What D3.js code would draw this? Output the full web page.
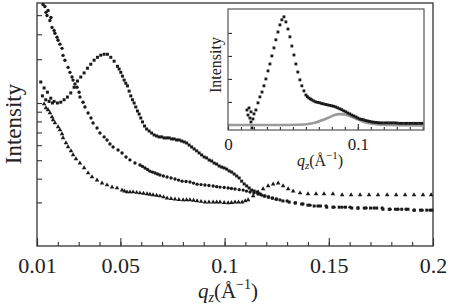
<!DOCTYPE html>
<html>
<head>
<meta charset="utf-8">
<script src="https://cdn.jsdelivr.net/npm/d3@7"></script>
<style>
  body { margin: 0; background: #fff; }
  text { font-family: "Liberation Serif", "Times New Roman", serif; fill: #222; }
</style>
</head>
<body>
<svg id="chart" width="450" height="306"></svg>
<script>
// ---- data ----
// main panel, [q_z, intensity]
const seriesA = [
  [0.0118,12.9],[0.0126,10.9],[0.0134,12.0],[0.0142,10.4],[0.0150,11.4],[0.0158,10.2],[0.0166,10.6],[0.0174,10.0],
  [0.0182,10.2],[0.0198,10.0],[0.0214,10.1],[0.0230,10.4],[0.0246,10.75],[0.0262,11.3],[0.0278,12.1],[0.0294,13.05],
  [0.0310,13.7],[0.0326,14.4],[0.0342,15.25],[0.0358,16.0],[0.0374,16.8],[0.0390,17.4],[0.0406,17.85],[0.0422,18.05],
  [0.0438,18.05],[0.0454,17.4],[0.0470,16.6],[0.0486,15.6],[0.0494,15.1],[0.0502,14.5],[0.0510,13.85],[0.0518,13.2],
  [0.0526,12.7],[0.0534,12.3],[0.0542,11.55],[0.0550,10.9],[0.0558,10.4],[0.0566,10.0],[0.0574,9.53],[0.0582,9.08],
  [0.0590,8.75],[0.0598,8.34],[0.0606,7.95],[0.0616,7.57],[0.0626,7.30],[0.0638,7.12],[0.0650,6.95],[0.0662,6.79],
  [0.0674,6.71],[0.0686,6.63],[0.0698,6.63],[0.0710,6.55],[0.0722,6.55],[0.0734,6.55],[0.0746,6.47],[0.0758,6.47],
  [0.0770,6.39],[0.0782,6.39],[0.0794,6.31],[0.0806,6.24],[0.0818,6.16],[0.0830,6.01],[0.0842,5.87],[0.0854,5.73],
  [0.0866,5.60],[0.0878,5.46],[0.0890,5.33],[0.0902,5.20],[0.0914,5.14],[0.0926,5.01],[0.0938,4.95],[0.0950,4.83],
  [0.0962,4.77],[0.0974,4.66],[0.0986,4.60],[0.0998,4.55],[0.1010,4.49],[0.1022,4.39],[0.1034,4.33],[0.1046,4.23],
  [0.1058,4.13],[0.1070,4.03],[0.1082,3.88],[0.1094,3.75],[0.1106,3.66],[0.1118,3.57],[0.1130,3.48],[0.1142,3.44],
  [0.1156,3.40],[0.117,3.32],[0.119,3.24],[0.121,3.20],[0.123,3.16],[0.125,3.12],[0.128,3.05],[0.131,3.01],
  [0.134,2.98],[0.137,2.94],[0.140,2.90],[0.143,2.87],[0.146,2.87],[0.149,2.83],[0.152,2.83],[0.155,2.83],
  [0.158,2.83],[0.161,2.80],[0.164,2.80],[0.167,2.80],[0.170,2.80],[0.173,2.80],[0.176,2.76],[0.179,2.76],
  [0.182,2.76],[0.185,2.76],[0.188,2.76],[0.191,2.73],[0.194,2.73],[0.197,2.73],[0.1995,2.73]
];
const seriesB = [
  [0.0129,33.0],[0.0138,32.2],[0.0143,30.0],[0.0148,28.9],[0.0153,30.7],[0.0162,27.2],[0.0167,28.2],[0.0172,25.0],
  [0.0182,24.1],[0.0186,23.3],[0.0196,22.2],[0.0201,21.4],[0.0210,20.4],[0.0220,19.4],[0.0225,17.8],[0.0234,16.8],
  [0.0249,15.4],[0.0258,14.5],[0.0268,13.7],[0.0273,13.2],[0.0282,12.6],[0.0292,12.1],[0.0302,11.4],[0.0306,10.75],
  [0.0321,10.1],[0.0330,9.53],[0.0345,8.86],[0.0359,8.34],[0.0369,7.85],[0.0388,7.39],[0.0402,6.95],[0.0422,6.63],
  [0.0436,6.39],[0.0450,6.09],[0.0465,5.87],[0.0489,5.66],[0.0508,5.46],[0.0527,5.20],[0.0546,5.02],[0.0570,4.83],
  [0.0594,4.72],[0.0606,4.64],[0.0618,4.55],[0.0630,4.47],[0.0642,4.38],[0.0654,4.33],[0.0666,4.28],[0.0678,4.23],
  [0.0690,4.18],[0.0706,4.13],[0.0724,4.08],[0.0743,4.03],[0.0762,3.98],[0.0779,3.93],[0.0796,3.88],[0.0815,3.86],
  [0.0834,3.84],[0.0851,3.79],[0.0868,3.74],[0.0887,3.72],[0.0906,3.70],[0.0925,3.68],[0.0945,3.66],[0.0962,3.63],
  [0.0978,3.61],[0.0998,3.59],[0.1017,3.57],[0.1033,3.55],[0.1050,3.53],[0.1070,3.50],[0.1089,3.48],[0.1105,3.44],
  [0.1122,3.40],[0.1141,3.36],[0.1160,3.32],[0.1177,3.28],[0.1194,3.24],[0.1211,3.20],[0.1228,3.16],[0.1247,3.12],
  [0.1266,3.09],[0.1300,3.05],[0.1338,2.98],[0.1376,2.94],[0.1410,2.90],[0.1448,2.87],[0.1487,2.87],[0.1525,2.83],
  [0.1564,2.83],[0.1602,2.83],[0.1640,2.80],[0.1679,2.80],[0.1717,2.80],[0.1756,2.80],[0.1794,2.76],[0.1832,2.76],
  [0.1871,2.76],[0.1909,2.73],[0.1948,2.73],[0.1986,2.73]
];
const seriesC = [
  [0.0134,9.88],[0.0143,9.42],[0.0153,9.19],[0.0162,8.86],[0.0172,8.44],[0.0177,8.14],[0.0186,7.85],[0.0201,7.48],
  [0.0210,7.21],[0.0220,6.87],[0.0225,6.55],[0.0239,6.16],[0.0249,5.87],[0.0263,5.59],[0.0273,5.33],[0.0287,5.08],
  [0.0306,4.83],[0.0326,4.55],[0.0345,4.28],[0.0364,4.08],[0.0388,3.93],[0.0412,3.79],[0.0436,3.70],[0.0460,3.61],
  [0.0484,3.57],[0.0508,3.48],[0.0520,3.44],[0.0532,3.40],[0.0546,3.40],[0.0561,3.40],[0.0578,3.38],[0.0594,3.36],
  [0.0611,3.34],[0.0628,3.32],[0.0642,3.30],[0.0657,3.28],[0.0674,3.26],[0.0690,3.24],[0.0707,3.20],[0.0724,3.16],
  [0.0743,3.14],[0.0762,3.12],[0.0781,3.10],[0.0801,3.09],[0.0818,3.09],[0.0834,3.09],[0.0851,3.07],[0.0868,3.05],
  [0.0887,3.03],[0.0906,3.01],[0.0925,3.01],[0.0945,3.01],[0.0962,3.01],[0.0978,3.01],[0.0998,2.99],[0.1017,2.98],
  [0.1033,2.99],[0.1050,3.01],[0.1067,3.01],[0.1084,3.01],[0.1099,3.05],[0.1113,3.09],[0.1137,3.24],[0.1161,3.40],
  [0.1185,3.53],[0.1209,3.66],[0.1233,3.74],[0.1257,3.79],[0.1281,3.66],[0.1305,3.53],[0.1329,3.44],[0.1362,3.36],
  [0.1400,3.32],[0.1439,3.32],[0.1477,3.32],[0.1520,3.32],[0.1564,3.28],[0.1607,3.28],[0.1650,3.28],[0.1693,3.28],
  [0.1736,3.28],[0.1780,3.28],[0.1823,3.28],[0.1866,3.28],[0.1909,3.28],[0.1952,3.28],[0.1991,3.28]
];

// inset, [q_z, intensity (arb.)]
const insetData = [
  [0.0146,0.65],[0.0154,0.43],[0.0162,0.74],[0.0169,0.30],[0.0177,0.57],[0.0177,0.13],[0.0185,-0.13],[0.0192,0.26],
  [0.0200,0.48],[0.0215,0.65],[0.0231,0.96],[0.0246,1.22],[0.0262,1.43],[0.0277,1.70],[0.0292,2.00],[0.0308,2.35],
  [0.0323,2.65],[0.0338,3.00],[0.0354,3.35],[0.0369,3.70],[0.0385,4.04],[0.0400,4.35],[0.0415,4.57],[0.0431,4.70],
  [0.0446,4.48],[0.0462,4.17],[0.0477,3.83],[0.0492,3.43],[0.0508,3.04],[0.0523,2.65],[0.0538,2.30],[0.0554,1.96],
  [0.0569,1.70],[0.0585,1.48],[0.0600,1.30],[0.0612,1.23],[0.0623,1.17],[0.0635,1.13],[0.0646,1.09],[0.0661,1.04],
  [0.0677,1.00],[0.0692,0.98],[0.0708,0.96],[0.0723,0.93],[0.0738,0.91],[0.0754,0.89],[0.0769,0.87],[0.0785,0.85],
  [0.0800,0.83],[0.0815,0.81],[0.0831,0.78],[0.0846,0.74],[0.0862,0.70],[0.0877,0.66],[0.0892,0.61],[0.0908,0.57],
  [0.0923,0.52],[0.0938,0.48],[0.0954,0.43],[0.0969,0.39],[0.0985,0.35],[0.1000,0.30],[0.1015,0.26],[0.1031,0.24],
  [0.1046,0.22],[0.1062,0.19],[0.1077,0.17],[0.1092,0.15],[0.1108,0.13],[0.1123,0.12],[0.1138,0.11],[0.1154,0.10],
  [0.1169,0.09],[0.1188,0.09],[0.1208,0.09],[0.1227,0.09],[0.1246,0.09],[0.1266,0.09],[0.1285,0.09],[0.1304,0.08],
  [0.1323,0.07],[0.1342,0.07],[0.1362,0.07],[0.1381,0.07],[0.1400,0.07],[0.1419,0.07],[0.1438,0.07],[0.1457,0.07],
  [0.1477,0.07],[0.1495,0.07]
];
const insetFit = [
  [0,0],[0.0246,0],[0.0477,0],[0.0592,0.02],[0.0669,0.09],[0.0723,0.2],[0.0769,0.3],[0.0815,0.42],
  [0.0862,0.47],[0.0908,0.44],[0.0954,0.35],[0.1,0.24],[0.1046,0.13],[0.1092,0.07],[0.1154,0.02],[0.1246,0],[0.1508,-0.02]
];

const mainXLabels = [0.01, 0.05, 0.1, 0.15, 0.2];
const mainYTicks = [3, 4, 5, 6, 7, 8, 9, 10, 17, 23, 29];
const insetXLabels = [0, 0.1];
const insetYTicks = [0, 1, 2, 3, 4];

// ---- main panel ----
const svg = d3.select("#chart");
const ink = "#1a1a1a";

const x = d3.scaleLinear().domain([0.01, 0.2]).range([37, 433]);
const y = d3.scaleLog().domain([1.768, 33.6]).range([246, 3]);

function styleAxis(g) {
  g.select(".domain").remove();
  g.selectAll(".tick line").attr("stroke", "#333").attr("stroke-width", 1.1);
  g.selectAll(".tick text").attr("fill", "#222");
}

svg.append("g")
  .attr("transform", "translate(0,246)")
  .call(d3.axisBottom(x).tickValues(d3.range(0.01, 0.2001, 0.01)).tickSize(-4).tickFormat(""))
  .call(styleAxis);

svg.append("g")
  .attr("transform", "translate(0,246)")
  .call(d3.axisBottom(x).tickValues(mainXLabels).tickSizeInner(-8).tickSizeOuter(0).tickPadding(11).tickFormat(d => d))
  .call(styleAxis)
  .call(g => g.selectAll(".tick text").style("font-size", "22px").style("font-family", "'Liberation Serif', serif"));

svg.append("g")
  .attr("transform", "translate(37,0)")
  .call(d3.axisLeft(y).tickValues(mainYTicks).tickSize(-5).tickFormat(""))
  .call(styleAxis);

svg.append("rect")
  .attr("x", x.range()[0]).attr("y", y.range()[1])
  .attr("width", x.range()[1] - x.range()[0]).attr("height", y.range()[0] - y.range()[1])
  .attr("fill", "none").attr("stroke", "#333").attr("stroke-width", 1.3);

const markA = d3.symbol().type(d3.symbolSquare).size(9);
const markB = d3.symbol().type(d3.symbolCircle).size(9);
const markC = d3.symbol().type(d3.symbolTriangle).size(9);

[[seriesA, markA], [seriesB, markB], [seriesC, markC]].forEach(([data, mark]) => {
  svg.append("g").selectAll("path")
    .data(data)
    .enter().append("path")
    .attr("d", mark)
    .attr("transform", d => "translate(" + x(d[0]) + "," + y(d[1]) + ")")
    .attr("fill", ink);
});

// axis titles
const xt = svg.append("text").attr("x", 228).attr("y", 298).attr("text-anchor", "middle").style("font-size", "21px");
xt.append("tspan").attr("font-style", "italic").text("q");
xt.append("tspan").attr("font-style", "italic").attr("font-size", "14px").attr("dy", 4).text("z");
xt.append("tspan").attr("dy", -4).text("(Å");
xt.append("tspan").attr("font-size", "14px").attr("dy", -9).text("−1");
xt.append("tspan").attr("dy", 9).text(")");

svg.append("text")
  .attr("transform", "translate(21,124) rotate(-90)")
  .attr("text-anchor", "middle")
  .style("font-size", "23px")
  .text("Intensity");

// ---- inset ----
const xi = d3.scaleLinear().domain([0, 0.151]).range([228, 424]);
const yi = d3.scaleLinear().domain([-0.22, 5.04]).range([130, 9]);

svg.append("rect")
  .attr("x", 228).attr("y", 9).attr("width", 196).attr("height", 121)
  .attr("fill", "#fff");

svg.append("g")
  .attr("transform", "translate(0,130)")
  .call(d3.axisBottom(xi).tickValues(d3.range(0, 0.1501, 0.01)).tickSize(-3).tickFormat(""))
  .call(styleAxis);

svg.append("g")
  .attr("transform", "translate(0,130)")
  .call(d3.axisBottom(xi).tickValues(insetXLabels).tickSizeInner(-6).tickSizeOuter(0).tickPadding(8).tickFormat(d => d))
  .call(styleAxis)
  .call(g => g.selectAll(".tick text").style("font-size", "17px").style("font-family", "'Liberation Serif', serif"));

svg.append("g")
  .attr("transform", "translate(228,0)")
  .call(d3.axisLeft(yi).tickValues(insetYTicks).tickSize(-4).tickFormat(""))
  .call(styleAxis);

svg.append("path")
  .datum(insetFit)
  .attr("d", d3.line().x(d => xi(d[0])).y(d => yi(d[1])).curve(d3.curveMonotoneX))
  .attr("fill", "none")
  .attr("stroke", "#9a9a9a")
  .attr("stroke-width", 2.6);

svg.append("g").selectAll("path")
  .data(insetData)
  .enter().append("path")
  .attr("d", d3.symbol().type(d3.symbolSquare).size(8))
  .attr("transform", d => "translate(" + xi(d[0]) + "," + yi(d[1]) + ")")
  .attr("fill", ink);

svg.append("rect")
  .attr("x", 228).attr("y", 9).attr("width", 196).attr("height", 121)
  .attr("fill", "none").attr("stroke", "#555").attr("stroke-width", 1.2);

const it = svg.append("text").attr("x", 320).attr("y", 166).attr("text-anchor", "middle").style("font-size", "16px");
it.append("tspan").attr("font-style", "italic").text("q");
it.append("tspan").attr("font-style", "italic").attr("font-size", "11px").attr("dy", 3).text("z");
it.append("tspan").attr("dy", -3).text("(Å");
it.append("tspan").attr("font-size", "11px").attr("dy", -7).text("−1");
it.append("tspan").attr("dy", 7).text(")");

svg.append("text")
  .attr("transform", "translate(221,65) rotate(-90)")
  .attr("text-anchor", "middle")
  .style("font-size", "16px")
  .text("Intensity");
</script>
</body>
</html>
